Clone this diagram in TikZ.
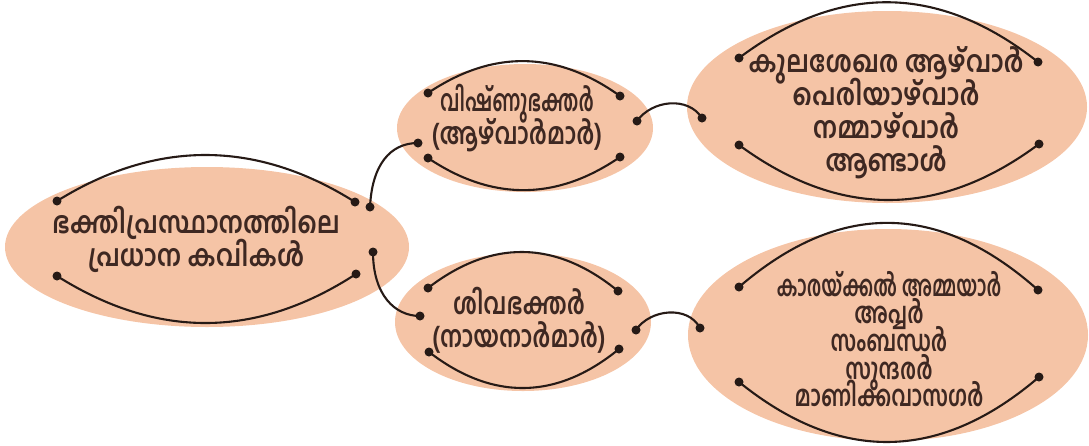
\documentclass[tikz,border=0pt]{standalone}
\usepackage{fontspec}
\newfontfamily\mlA[Script=Malayalam,FakeStretch=0.85]{Hind Kochi}
\newfontfamily\mlB[Script=Malayalam,FakeStretch=0.77]{Hind Kochi}
\newfontfamily\mlC[Script=Malayalam,FakeStretch=0.72]{Hind Kochi}
\newfontfamily\mlD[Script=Malayalam,FakeStretch=0.65]{Hind Kochi}
\usetikzlibrary{shapes.geometric}
\setlength{\lineskiplimit}{-100pt}
\definecolor{peach}{RGB}{245,196,166}
\definecolor{ink}{RGB}{38,26,22}
\definecolor{txtc}{RGB}{62,40,34}
\tikzset{
  blob/.style={ellipse, fill=peach, draw=none, inner sep=0pt},
  txt/.style={align=center, text=txtc, font=\mlA\bfseries\fontsize{30pt}{33pt}\selectfont, inner sep=0pt},
  txtsmall/.style={align=center, text=txtc, font=\mlC\bfseries\fontsize{29pt}{27.6pt}\selectfont, inner sep=0pt},
  link/.style={draw=ink, line width=2.1pt},
}
\newcommand{\dotat}[1]{\fill[ink] (#1) circle (4.5pt);}
\begin{document}
\begin{tikzpicture}[x=1pt,y=-1pt]
\useasboundingbox (0,0) rectangle (1089,445);
% ellipses
\node[blob, minimum width=404pt, minimum height=160pt] (e1) at (207,247) {};
\node[blob, minimum width=256pt, minimum height=128pt] (e2) at (525,128) {};
\node[blob, minimum width=400pt, minimum height=192pt] (e3) at (887,107) {};
\node[blob, minimum width=256pt, minimum height=138pt] (e4) at (523,322) {};
\node[blob, minimum width=400pt, minimum height=212pt] (e5) at (888,335) {};
% texts
\node[txt] (t1) at (196,239) {ഭക്തിപ്രസ്ഥാനത്തിലെ\\പ്രധാന കവികൾ};
\node[txt] (t2) at (517,118) {{\mlD വിഷ്ണുഭക്തർ}\\{\mlB (ആഴ്‌വാർമാർ)}};
\node[txt] (t3) at (886,113) {കുലശേഖര ആഴ്‌വാർ\\പെരിയാഴ്‌വാർ\\നമ്മാഴ്‌വാർ\\ആണ്ടാൾ};
\node[txt] (t4) at (519,320) {{\mlB ശിവഭക്തർ}\\{\mlB (നായനാർമാർ)}};
\node[txtsmall] (t5) at (889,339) {{\mlD കാരയ്ക്കൽ അമ്മയാർ}\\അപ്പർ\\സംബന്ധർ\\സുന്ദരർ\\മാണിക്കവാസഗർ};
% dot coordinates
\coordinate (e1tl) at (57,201);  \coordinate (e1tr) at (355,202);
\coordinate (e1bl) at (57,276);  \coordinate (e1br) at (356,274);
\coordinate (e1ca) at (370,207); \coordinate (e1cb) at (373,252);
\coordinate (e2tl) at (428,93);  \coordinate (e2tr) at (620,96);
\coordinate (e2bl) at (428,158); \coordinate (e2br) at (620,157);
\coordinate (e2in) at (418,143); \coordinate (e2out) at (637,121);
\coordinate (e3tl) at (739,58);  \coordinate (e3tr) at (1038,62);
\coordinate (e3bl) at (739,145); \coordinate (e3br) at (1039,144);
\coordinate (e3in) at (702,118);
\coordinate (e4tl) at (428,288); \coordinate (e4tr) at (618,291);
\coordinate (e4bl) at (429,352); \coordinate (e4br) at (619,349);
\coordinate (e4in) at (420,316); \coordinate (e4out) at (636,330);
\coordinate (e5tl) at (739,287); \coordinate (e5tr) at (1038,290);
\coordinate (e5bl) at (739,382); \coordinate (e5br) at (1039,377);
\coordinate (e5in) at (700,328);
% inner arcs
\draw[link] (e1tl) .. controls (156,139.5) and (256,139.5) .. (e1tr);
\draw[link] (e1bl) .. controls (157,339) and (256,339) .. (e1br);
\draw[link] (e2tl) .. controls (492,50) and (556,50) .. (e2tr);
\draw[link] (e2bl) .. controls (492,201) and (556,201) .. (e2br);
\draw[link] (e3tl) .. controls (839,-17) and (938,-17) .. (e3tr);
\draw[link] (e3bl) .. controls (839,218.5) and (939,218.5) .. (e3br);
\draw[link] (e4tl) .. controls (491,239.5) and (555,239.5) .. (e4tr);
\draw[link] (e4bl) .. controls (492,400.5) and (556,400.5) .. (e4br);
\draw[link] (e5tl) .. controls (839,201) and (938,201) .. (e5tr);
\draw[link] (e5bl) .. controls (839,462.8) and (939,462.8) .. (e5br);
% connectors
\draw[link] (e1ca) .. controls (372,165) and (390,143) .. (e2in);
\draw[link] (e2out) .. controls (652,100) and (688,96) .. (e3in);
\draw[link] (e1cb) .. controls (373,295) and (395,316) .. (e4in);
\draw[link] (e4out) .. controls (650,309) and (688,305) .. (e5in);
% dots
\foreach \p in {e1tl,e1tr,e1bl,e1br,e1ca,e1cb,e2tl,e2tr,e2bl,e2br,e2in,e2out,
  e3tl,e3tr,e3bl,e3br,e3in,e4tl,e4tr,e4bl,e4br,e4in,e4out,e5tl,e5tr,e5bl,e5br,e5in}
  {\dotat{\p}}
\end{tikzpicture}
\end{document}
